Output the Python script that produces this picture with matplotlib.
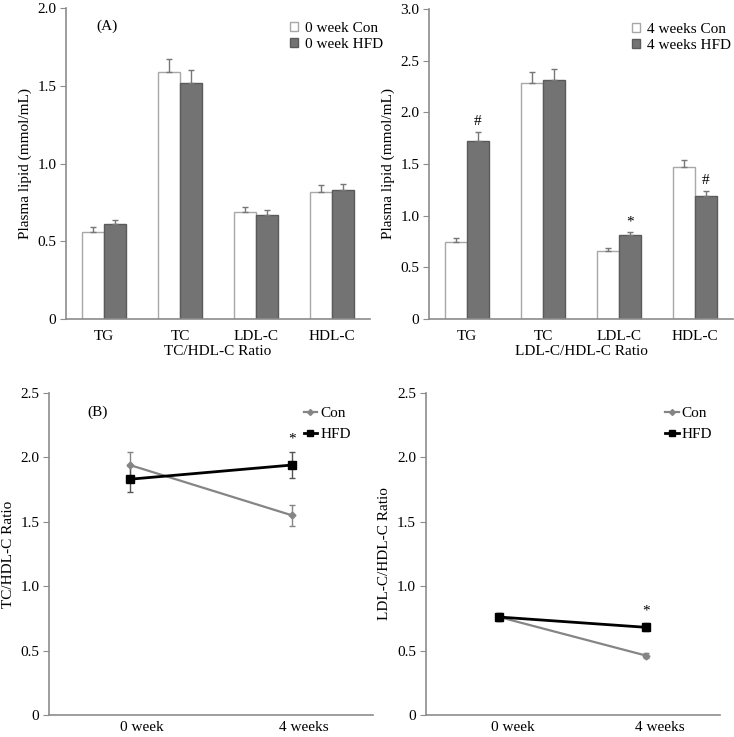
import numpy as np
import matplotlib
matplotlib.use("Agg")
import matplotlib.pyplot as plt
from matplotlib.lines import Line2D

plt.rcParams['font.family'] = ['Liberation Serif', 'DejaVu Serif']
plt.rcParams['font.size'] = 11

# data
lipids = ["TG", "TC", "LDL-C", "HDL-C"]
w0_con = [0.56, 1.59, 0.69, 0.82]
w0_con_err = [0.03, 0.08, 0.03, 0.04]
w0_hfd = [0.61, 1.52, 0.67, 0.83]
w0_hfd_err = [0.03, 0.08, 0.03, 0.04]
w4_con = [0.75, 2.28, 0.66, 1.47]
w4_con_err = [0.03, 0.11, 0.03, 0.07]
w4_hfd = [1.72, 2.31, 0.81, 1.19]
w4_hfd_err = [0.09, 0.11, 0.03, 0.05]
w4_marks = ["#", "", "*", "#"]

weeks = ["0 week", "4 weeks"]
tc_con = [1.94, 1.55]
tc_con_err = [0.10, 0.08]
tc_hfd = [1.83, 1.94]
tc_hfd_err = [0.10, 0.10]
tc_marks = ["", "*"]
ldl_con = [0.76, 0.46]
ldl_con_err = [0.03, 0.02]
ldl_hfd = [0.76, 0.68]
ldl_hfd_err = [0.03, 0.03]
ldl_marks = ["", "*"]

axc = "#8c8c8c"
fig = plt.figure(figsize=(7.34, 7.37), dpi=100)


def style(ax, ymax, step):
    for s in ["top", "right"]:
        ax.spines[s].set_visible(False)
    for s in ["left", "bottom"]:
        ax.spines[s].set_color(axc)
        ax.spines[s].set_linewidth(1.2)
    ax.set_ylim(0, ymax)
    ticks = np.arange(0, ymax + 0.001, step)
    ax.set_yticks(ticks)
    ax.set_yticklabels(["0"] + ["%.1f" % t for t in ticks[1:]])
    ax.tick_params(axis="y", direction="out", length=4, color=axc, pad=3)
    ax.tick_params(axis="x", length=0, pad=8)


def bars(ax, con, con_err, hfd, hfd_err, ymax, labels, xlabel, leg_x, marks=None):
    x = np.arange(len(lipids))
    w = 0.29
    ax.bar(x - w / 2, con, w, color="white", edgecolor="#a8a8a8", linewidth=1, label=labels[0])
    ax.bar(x + w / 2, hfd, w, color="#737373", edgecolor="#5a5a5a", linewidth=1, label=labels[1])
    ax.errorbar(x - w / 2, con, yerr=[np.zeros(4), con_err], fmt="none", ecolor="#777777",
                elinewidth=1, capsize=2.5, capthick=1)
    ax.errorbar(x + w / 2, hfd, yerr=[np.zeros(4), hfd_err], fmt="none", ecolor="#777777",
                elinewidth=1, capsize=2.5, capthick=1)
    if marks:
        for i, m in enumerate(marks):
            if m:
                ax.text(x[i] + w / 2, hfd[i] + hfd_err[i] + 0.04, m, ha="center", va="bottom", fontsize=11)
    ax.set_xlim(-0.5, 3.5)
    ax.set_xticks(x)
    ax.set_xticklabels(lipids)
    ax.set_xlabel(xlabel, labelpad=1)
    ax.set_ylabel("Plasma lipid (mmol/mL)")
    style(ax, ymax, 0.5)
    ax.legend(loc="upper right", bbox_to_anchor=(leg_x, 1.0), frameon=False, handlelength=0.5,
              handleheight=0.5, handletextpad=0.5, labelspacing=0.2, fontsize=11)


def lines(ax, con, con_err, hfd, hfd_err, ylabel, marks, shift, leg_x):
    x = np.arange(len(weeks))
    ax.errorbar(x, con, yerr=con_err, color="#858585", lw=1.6, marker="D", ms=3.5,
                ecolor="#858585", elinewidth=1, capsize=2)
    ax.errorbar(x, hfd, yerr=hfd_err, color="black", lw=2.0, marker="s", ms=6,
                ecolor="#555555", elinewidth=1, capsize=2)
    for i, m in enumerate(marks):
        if m:
            ax.text(x[i], max(con[i] + con_err[i], hfd[i] + hfd_err[i]) + 0.05, m,
                    ha="center", va="bottom", fontsize=11)
    ax.set_xlim(-0.5, 1.5)
    ax.set_xticks(x + shift)
    ax.set_xticklabels(weeks)
    ax.set_ylabel(ylabel)
    style(ax, 2.5, 0.5)
    ax.tick_params(axis="x", pad=4)
    handles = [Line2D([], [], color="#858585", lw=1.6, marker="D", ms=3),
               Line2D([], [], color="black", lw=2.0, marker="s", ms=5)]
    ax.legend(handles, ["Con", "HFD"], loc="upper right", bbox_to_anchor=(leg_x, 1.0), frameon=False,
              handlelength=0.9, handletextpad=0.2, labelspacing=0.45, fontsize=11)


ax1 = fig.add_axes([0.0899, 0.567, 0.414, 0.422])
bars(ax1, w0_con, w0_con_err, w0_hfd, w0_hfd_err, 2.0, ["0 week Con", "0 week HFD"], "TC/HDL-C Ratio", 1.09)
ax1.text(0.1, 0.93, "(A)", transform=ax1.transAxes, fontsize=11)

ax2 = fig.add_axes([0.5845, 0.567, 0.414, 0.421])
bars(ax2, w4_con, w4_con_err, w4_hfd, w4_hfd_err, 3.0, ["4 weeks Con", "4 weeks HFD"], "LDL-C/HDL-C Ratio",
     1.04, marks=w4_marks)

ax3 = fig.add_axes([0.0668, 0.0299, 0.441, 0.437])
lines(ax3, tc_con, tc_con_err, tc_hfd, tc_hfd_err, "TC/HDL-C Ratio", tc_marks, 0.075, 0.975)
ax3.text(0.12, 0.93, "(B)", transform=ax3.transAxes, fontsize=11)

ax4 = fig.add_axes([0.580, 0.0299, 0.401, 0.437])
lines(ax4, ldl_con, ldl_con_err, ldl_hfd, ldl_hfd_err, "LDL-C/HDL-C Ratio", ldl_marks, 0.09, 1.02)

fig.savefig("out.png", dpi=100)
